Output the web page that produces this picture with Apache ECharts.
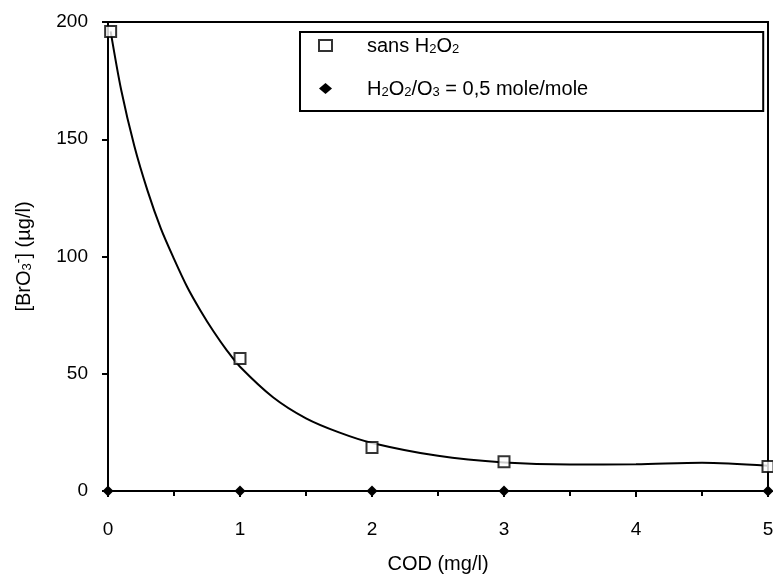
<!DOCTYPE html>
<html>
<head>
<meta charset="utf-8">
<script src="https://cdn.jsdelivr.net/npm/echarts@6/dist/echarts.min.js"></script>
<style>html,body{margin:0;padding:0;background:#fff;}#c{width:773px;height:582px;}</style>
</head>
<body>
<div id="c"></div>
<script>
// Measured points: sans H2O2
const codSans = [0.02, 1, 2, 3, 5];
const bromateSans = [196, 56.5, 18.5, 12.5, 10.5];
// Measured points: H2O2/O3 = 0.5 mole/mole
const codPer = [0, 1, 2, 3, 5];
const bromatePer = [0, 0, 0, 0, 0];
// Fitted curve
const fitX = [0.02, 0.1, 0.2, 0.3, 0.4, 0.5, 0.6, 0.7, 0.8, 0.9, 1.0, 1.25, 1.5, 1.75, 2.0, 2.5, 3.0, 3.5, 4.0, 4.5, 5.0];
const fitY = [196, 171, 147, 128, 112, 99, 87, 77, 68, 60, 53, 40, 31, 25, 20.5, 15, 12.2, 11.3, 11.4, 12.1, 10.8];
const xTicks = [0, 1, 2, 3, 4, 5];
const yTicks = [0, 50, 100, 150, 200];

const FONT = '"Liberation Sans", Arial, Helvetica, sans-serif';
const chart = echarts.init(document.getElementById('c'), null, {renderer: 'canvas'});

const zip = (a, b) => a.map((v, i) => [v, b[i]]);
const norm = {fontSize: 20, fontFamily: FONT, color: '#000', verticalAlign: 'bottom'};
const sub = {fontSize: 13, fontFamily: FONT, color: '#000', padding: [8, 0, 0, 0], verticalAlign: 'bottom'};

chart.setOption({
  animation: false,
  backgroundColor: '#fff',
  grid: {left: 108, right: 5, top: 22, bottom: 91, outerBoundsMode: 'none', containLabel: false,
    show: true, borderColor: '#000', borderWidth: 2, backgroundColor: 'transparent'},
  xAxis: {
    type: 'value', min: 0, max: 5, interval: 1,
    name: 'COD (mg/l)', nameLocation: 'middle', nameGap: 63,
    nameTextStyle: {fontSize: 20, fontFamily: FONT, color: '#000'},
    axisLine: {show: true, lineStyle: {color: '#000', width: 2}},
    axisTick: {show: true, length: 6, lineStyle: {color: '#000', width: 2}},
    minorTick: {show: true, splitNumber: 2, length: 5, lineStyle: {color: '#000', width: 2}},
    axisLabel: {fontSize: 19, fontFamily: FONT, color: '#000', margin: 29,
      formatter: v => xTicks.includes(v) ? String(v) : ''},
    splitLine: {show: false}
  },
  yAxis: {
    type: 'value', min: 0, max: 200, interval: 50,
    name: '{n|[BrO}{s|3}{p|-}{n|] (µg/l)}', nameLocation: 'middle', nameGap: 74, nameRotate: 90,
    nameTextStyle: {rich: {
      n: {fontSize: 20, fontFamily: FONT, color: '#000', verticalAlign: 'bottom'},
      s: {fontSize: 13, fontFamily: FONT, color: '#000', padding: [8, 0, 0, 0], verticalAlign: 'bottom'},
      p: {fontSize: 14, fontFamily: FONT, color: '#000', padding: [0, 0, 8, 0], verticalAlign: 'bottom'}
    }},
    axisLine: {show: true, lineStyle: {color: '#000', width: 2}},
    axisTick: {show: true, length: 6, lineStyle: {color: '#000', width: 2}},
    axisLabel: {fontSize: 19, fontFamily: FONT, color: '#000', margin: 20,
      formatter: v => yTicks.includes(v) ? String(v) : ''},
    splitLine: {show: false}
  },
  legend: {
    left: 300, top: 32, orient: 'vertical',
    borderColor: '#000', borderWidth: 2, backgroundColor: '#fff',
    padding: [4, 175, 12, 18], itemGap: 23, itemWidth: 13, itemHeight: 11,
    data: [
      {name: 'sans', icon: 'rect', itemStyle: {color: '#fff', borderColor: '#000', borderWidth: 2}},
      {name: 'per', icon: 'diamond', itemStyle: {color: '#000'}}
    ],
    formatter: n => n === 'sans'
      ? '{n|sans H}{s|2}{n|O}{s|2}'
      : '{n|H}{s|2}{n|O}{s|2}{n|/O}{s|3}{n| = 0,5 mole/mole}',
    textStyle: {padding: [0, 0, 0, 30], rich: {n: norm, s: sub}}
  },
  series: [
    {
      name: 'fit', type: 'line', data: zip(fitX, fitY), smooth: 0.3,
      showSymbol: false, symbol: 'none', silent: true,
      lineStyle: {color: '#000', width: 2}, z: 2
    },
    {
      name: 'sans', type: 'scatter', data: zip(codSans, bromateSans),
      symbol: 'rect', symbolSize: 11,
      itemStyle: {color: '#fff', borderColor: '#000', borderWidth: 2}, z: 4
    },
    {
      name: 'per', type: 'line', data: zip(codPer, bromatePer),
      symbol: 'diamond', symbolSize: 11, showSymbol: true,
      itemStyle: {color: '#000'}, lineStyle: {color: '#000', width: 2}, z: 4
    }
  ]
});
</script>
</body>
</html>
